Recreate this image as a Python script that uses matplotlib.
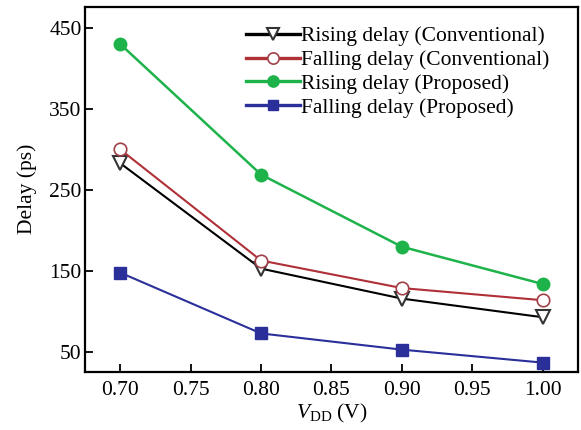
import matplotlib
matplotlib.use("Agg")
import matplotlib.pyplot as plt

plt.rcParams["font.family"] = ["Liberation Serif", "DejaVu Serif"]
plt.rcParams["mathtext.fontset"] = "custom"
plt.rcParams["mathtext.rm"] = "Liberation Serif"
plt.rcParams["mathtext.it"] = "Liberation Serif:italic"

# data
vdd = [0.70, 0.80, 0.90, 1.00]
rising_conv = [283, 153, 116, 93]
falling_conv = [300, 163, 129, 114]
rising_prop = [430, 269, 180, 134]
falling_prop = [148, 73, 53, 37]

x_ticks = [0.70, 0.75, 0.80, 0.85, 0.90, 0.95, 1.00]
y_ticks = [50, 150, 250, 350, 450]

fig = plt.figure(figsize=(5.81, 4.30), dpi=100)
ax = fig.add_axes([0.1465, 0.136, 0.848, 0.848])

ax.plot(vdd, rising_conv, color="black", lw=1.5, marker="v", ms=9.5,
        mfc="white", mec="#333333", mew=1.5, label="Rising delay (Conventional)")
ax.plot(vdd, falling_conv, color="#b03038", lw=1.5, marker="o", ms=9,
        mfc="white", mec="#a04048", mew=1.2, label="Falling delay (Conventional)")
ax.plot(vdd, rising_prop, color="#1db34a", lw=1.8, marker="o", ms=9,
        mfc="#1db34a", mec="#1db34a", label="Rising delay (Proposed)")
ax.plot(vdd, falling_prop, color="#2a2f9a", lw=1.5, marker="s", ms=8,
        mfc="#2a2f9a", mec="#2a2f9a", label="Falling delay (Proposed)")

ax.set_xlim(0.675, 1.025)
ax.set_ylim(26, 476)
ax.set_xticks(x_ticks)
ax.set_xticklabels(["%.2f" % t for t in x_ticks])
ax.set_yticks(y_ticks)
ax.tick_params(direction="in", length=5.5, width=1.3, labelsize=15.5, top=False, right=False)
ax.tick_params(axis="y", pad=2.5)
ax.tick_params(axis="x", pad=7)
for s in ax.spines.values():
    s.set_linewidth(1.6)

ax.set_ylabel("Delay (ps)", fontsize=15.5, labelpad=8.5)
ax.set_xlabel(r"$V_{\rm DD}$ (V)", fontsize=15.5, labelpad=1)

leg = ax.legend(loc="upper right", bbox_to_anchor=(0.96, 0.97), borderaxespad=0,
                frameon=False, fontsize=15.5, handlelength=2.5,
                handletextpad=0.05, labelspacing=0.17, markerscale=0.9)
for h in leg.legend_handles:
    h.set_linewidth(2.4)

fig.savefig("out.png", dpi=100)
